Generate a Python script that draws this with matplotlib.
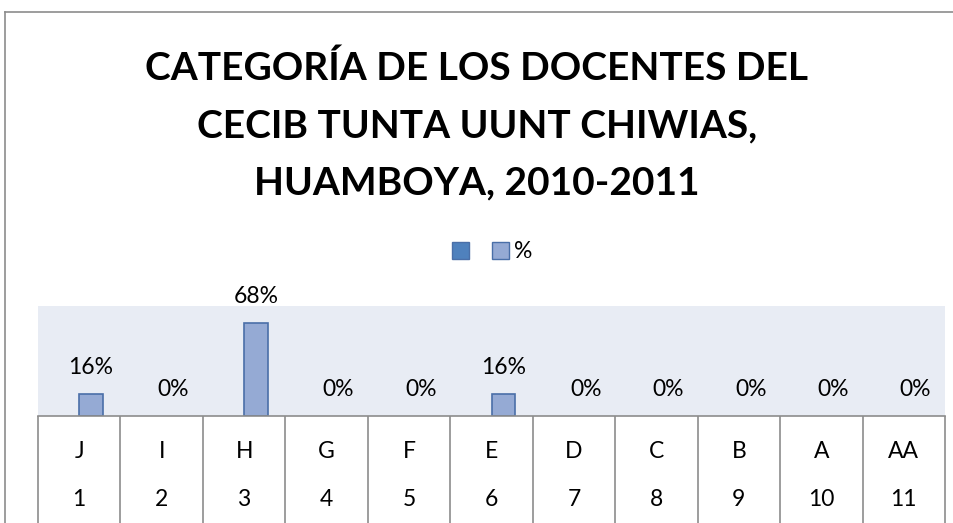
import matplotlib.pyplot as plt
import numpy as np
from matplotlib.patches import Patch
from matplotlib.lines import Line2D

plt.rcParams['font.family'] = ['Lato', 'DejaVu Sans']

categorias = ['J', 'I', 'H', 'G', 'F', 'E', 'D', 'C', 'B', 'A', 'AA']
numeros = ['1', '2', '3', '4', '5', '6', '7', '8', '9', '10', '11']
serie_n = [0, 0, 0, 0, 0, 0, 0, 0, 0, 0, 0]  # primera serie, sin barras visibles
porcentaje = [0.16, 0, 0.68, 0, 0, 0.16, 0, 0, 0, 0, 0]
etiquetas = ['16%', '0%', '68%', '0%', '0%', '16%', '0%', '0%', '0%', '0%', '0%']

titulo = ['CATEGORÍA DE LOS DOCENTES DEL', 'CECIB TUNTA UUNT CHIWIAS,', 'HUAMBOYA, 2010-2011']

azul_osc = '#4F81BD'
azul_cla = '#95AAD4'
borde = '#4A6FA8'
gris = '#8C8C8C'
tam = 16.5

W, H = 954, 523
fig = plt.figure(figsize=(W / 100, H / 100), dpi=100)
ax = fig.add_axes([38 / W, (H - 416) / H, (945 - 38) / W, (416 - 306) / H])
ax.set_facecolor('#E8ECF4')

x = np.arange(len(categorias))
w = 0.286
ax.bar(x - w / 2, serie_n, w, color=azul_osc, linewidth=0)
anchos = [1.2 if v > 0 else 0 for v in porcentaje]
ax.bar(x + w / 2, porcentaje, w, color=azul_cla, edgecolor=borde, linewidth=anchos)

for xi, v, lab in zip(x, porcentaje, etiquetas):
    ax.annotate(lab, (xi + w / 2, v), xytext=(0, 19), textcoords='offset points',
                ha='center', va='center', fontsize=tam)

ax.set_xlim(-0.5, len(categorias) - 0.5)
ax.set_ylim(0, 0.8)
ax.set_yticks([])
for s in ['top', 'left', 'right']:
    ax.spines[s].set_visible(False)
ax.spines['bottom'].set_color(gris)
ax.spines['bottom'].set_linewidth(1.2)

# separadores de la tabla de categorias
ax.set_xticks(np.arange(-0.5, len(categorias), 1))
ax.set_xticklabels([])
ax.tick_params(axis='x', length=80, width=1.2, color=gris, direction='out')

tr = ax.get_xaxis_transform()
for xi, c, n in zip(x, categorias, numeros):
    ax.text(xi, -36 / 110, c, transform=tr, ha='center', va='center', fontsize=tam)
    ax.text(xi, -84 / 110, n, transform=tr, ha='center', va='center', fontsize=tam)

for linea, yp in zip(titulo, [68, 126, 183]):
    fig.text(0.5, 1 - yp / H, linea, ha='center', va='center', fontsize=28,
             fontweight='bold')

handles = [Patch(facecolor=azul_osc, edgecolor=borde), Patch(facecolor=azul_cla, edgecolor=borde)]
fig.legend(handles, ['', '%'], loc='center', bbox_to_anchor=(492 / W, 1 - 252 / H), ncol=2,
           frameon=False, fontsize=tam, handlelength=0.75, handleheight=0.75,
           columnspacing=0.8, handletextpad=0.2)

# marco del grafico
fig.add_artist(Line2D([5 / W, 5 / W], [0, 1 - 12 / H], color=gris, lw=1.2))
fig.add_artist(Line2D([5 / W, 1], [1 - 12 / H, 1 - 12 / H], color=gris, lw=1.2))

fig.savefig('out.png', dpi=100)
